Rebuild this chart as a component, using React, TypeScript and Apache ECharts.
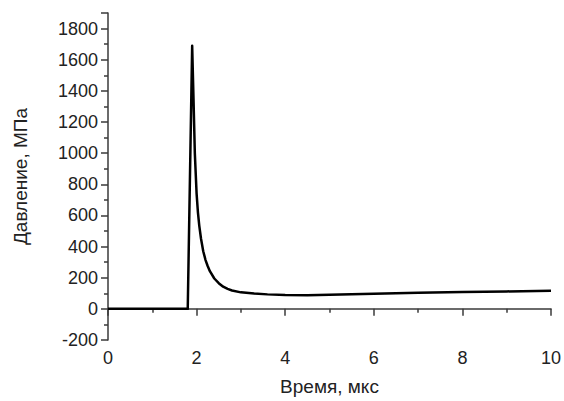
import React, { useEffect, useRef } from "react";
import * as echarts from "echarts";

const times = [0, 1.8, 1.9, 1.93, 1.96, 2.0, 2.03, 2.06, 2.1, 2.15, 2.2, 2.25, 2.3, 2.4, 2.5, 2.6, 2.7, 2.8, 3.0, 3.3, 3.6, 4.0, 4.5, 5, 6, 7, 8, 9, 10];
const pressures = [0, 0, 1690, 1350, 1000, 740, 620, 535, 450, 370, 315, 275, 242, 195, 165, 142, 128, 118, 106, 98, 93, 89, 88, 91, 97, 103, 108, 112, 117];

export default function App() {
  const ref = useRef<HTMLDivElement>(null);
  useEffect(() => {
    const chart = echarts.init(ref.current!, undefined, { renderer: "svg" });
    const font = "'Liberation Sans', Arial, sans-serif";
    const axisColor = "#3a3a3a";
    chart.setOption({
      animation: false,
      backgroundColor: "#fff",
      grid: { left: 108, right: 13, top: 13, bottom: 61 },
      xAxis: {
        type: "value",
        min: 0,
        max: 10,
        interval: 2,
        name: "Время, мкс",
        nameLocation: "middle",
        nameGap: 37,
        nameTextStyle: { fontFamily: font, fontSize: 19, color: "#222" },
        axisLine: { show: true, lineStyle: { color: axisColor, width: 1.5 } },
        axisTick: { show: true, inside: false, length: 7, lineStyle: { color: axisColor, width: 1.5 } },
        minorTick: { show: true, splitNumber: 2, length: 4, lineStyle: { color: axisColor, width: 1.5 } },
        axisLabel: { fontFamily: font, fontSize: 18, color: "#222", margin: 9 },
        splitLine: { show: false },
      },
      yAxis: {
        type: "value",
        min: -200,
        max: 1900,
        interval: 200,
        name: "Давление, МПа",
        nameLocation: "middle",
        nameGap: 78,
        nameTextStyle: { fontFamily: font, fontSize: 19, color: "#222" },
        axisLine: { show: true, lineStyle: { color: axisColor, width: 1.5 } },
        axisTick: { show: true, inside: false, length: 7, lineStyle: { color: axisColor, width: 1.5 } },
        minorTick: { show: true, splitNumber: 2, length: 4, lineStyle: { color: axisColor, width: 1.5 } },
        axisLabel: {
          fontFamily: font,
          fontSize: 18,
          color: "#222",
          margin: 10,
          formatter: (v: number) => (v > 1800 ? "" : String(v)),
        },
        splitLine: { show: false },
      },
      series: [
        {
          type: "line",
          data: times.map((t, i) => [t, pressures[i]]),
          smooth: false,
          showSymbol: false,
          lineStyle: { color: "#000", width: 2.5, join: "round" },
        },
      ],
    });
    return () => chart.dispose();
  }, []);
  return (
    <div
      ref={ref}
      style={{ position: "absolute", left: 0, top: 0, width: 564, height: 401 }}
    />
  );
}
